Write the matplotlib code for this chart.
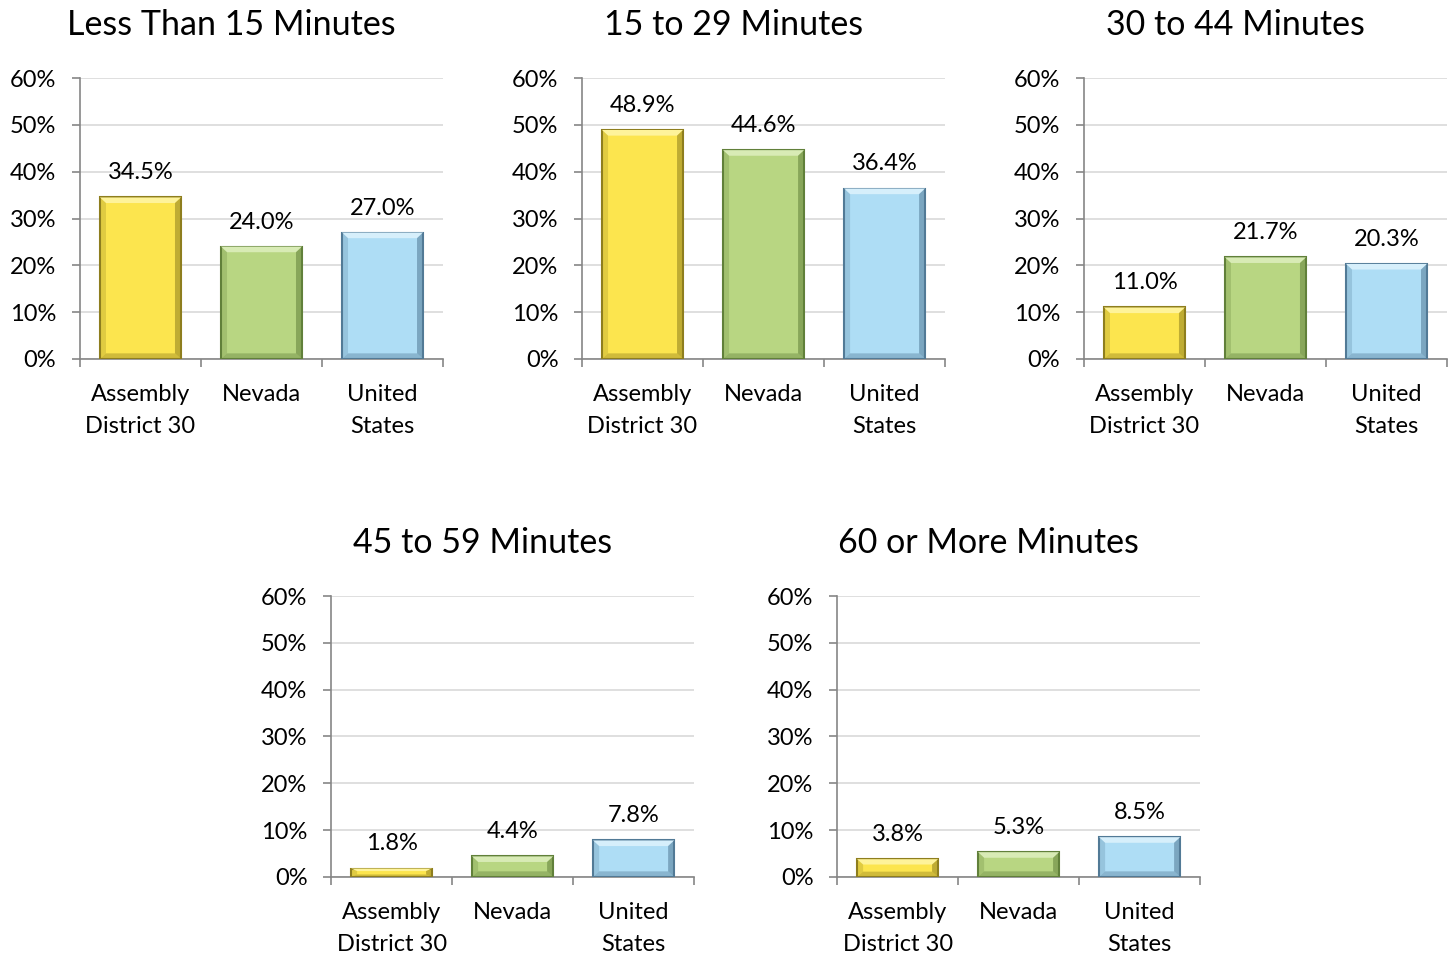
import matplotlib
matplotlib.use("Agg")
import matplotlib.pyplot as plt
import numpy as np
from matplotlib.patches import Polygon

plt.rcParams['font.family'] = ['Lato', 'DejaVu Sans']

categories = ["Assembly\nDistrict 30", "Nevada", "United\nStates"]
titles = ["Less Than 15 Minutes", "15 to 29 Minutes", "30 to 44 Minutes",
          "45 to 59 Minutes", "60 or More Minutes"]
district = [34.5, 48.9, 11.0, 1.8, 3.8]
nevada = [24.0, 44.6, 21.7, 4.4, 5.3]
usa = [27.0, 36.4, 20.3, 7.8, 8.5]
yticks = [0, 10, 20, 30, 40, 50, 60]

face = ["#FCE54E", "#B8D682", "#AEDDF5"]
light = ["#FEF39A", "#D8EBB5", "#D6EFFB"]
dark = ["#8E7E1E", "#61803A", "#527A96"]

# axes rectangles in figure fractions
boxes = [(0.0550, 0.6241), (0.4003, 0.6241), (0.7455, 0.6241),
         (0.2277, 0.0817), (0.5757, 0.0817)]
W, H = 0.2497, 0.2942

fig = plt.figure(figsize=(14.54, 9.55), dpi=100)

for i, (x0, y0) in enumerate(boxes):
    ax = fig.add_axes([x0, y0, W, H])
    vals = [district[i], nevada[i], usa[i]]
    xs = np.arange(3)
    bw = 0.67
    ax.bar(xs, vals, width=bw, color=face, edgecolor=dark,
           linewidth=1.5, zorder=3)
    # simple bevel: lighter top strip and darker right/bottom strips
    for j, v in enumerate(vals):
        l, r = xs[j] - bw / 2, xs[j] + bw / 2
        bx = 0.05
        by = min(1.2, v * 0.3)
        ax.add_patch(Polygon([(l, v), (r, v), (r - bx, v - by), (l + bx, v - by)],
                             closed=True, facecolor=light[j], edgecolor='none', zorder=4))
        ax.add_patch(Polygon([(r, v), (r, 0), (r - bx, by), (r - bx, v - by)],
                             closed=True, facecolor=dark[j], alpha=0.55,
                             edgecolor='none', zorder=4))
        ax.add_patch(Polygon([(l, 0), (r, 0), (r - bx, by), (l + bx, by)],
                             closed=True, facecolor=dark[j], alpha=0.4,
                             edgecolor='none', zorder=4))
        ax.add_patch(Polygon([(l, v), (l, 0), (l + bx, by), (l + bx, v - by)],
                             closed=True, facecolor=dark[j], alpha=0.25,
                             edgecolor='none', zorder=4))
        ax.text(xs[j], v + 3.0, f"{v:.1f}%", ha='center', va='bottom',
                fontsize=17, color='black', zorder=5)

    ax.set_xlim(-0.5, 2.5)
    ax.set_ylim(0, 60)
    ax.set_yticks(yticks)
    ax.set_yticklabels([f"{t}%" for t in yticks], fontsize=17)
    ax.set_xticks(xs)
    ax.set_xticklabels(categories, fontsize=17, linespacing=1.65)
    ax.tick_params(axis='x', length=0, pad=18)
    ax.set_xticks([-0.5, 0.5, 1.5, 2.5], minor=True)
    ax.tick_params(axis='x', which='minor', length=6, color='#868686', width=1.2)
    ax.tick_params(axis='y', length=6, color='#868686', width=1.2, pad=11)
    ax.grid(axis='y', color='#D9D9D9', linewidth=1.2, zorder=0)
    ax.set_axisbelow(True)
    for s in ['top', 'right']:
        ax.spines[s].set_visible(False)
    for s in ['left', 'bottom']:
        ax.spines[s].set_color('#868686')
        ax.spines[s].set_linewidth(1.2)
    ax.set_title(titles[i], fontsize=24.5, pad=31, x=0.417)

fig.savefig("out.png", dpi=100, facecolor='white')
